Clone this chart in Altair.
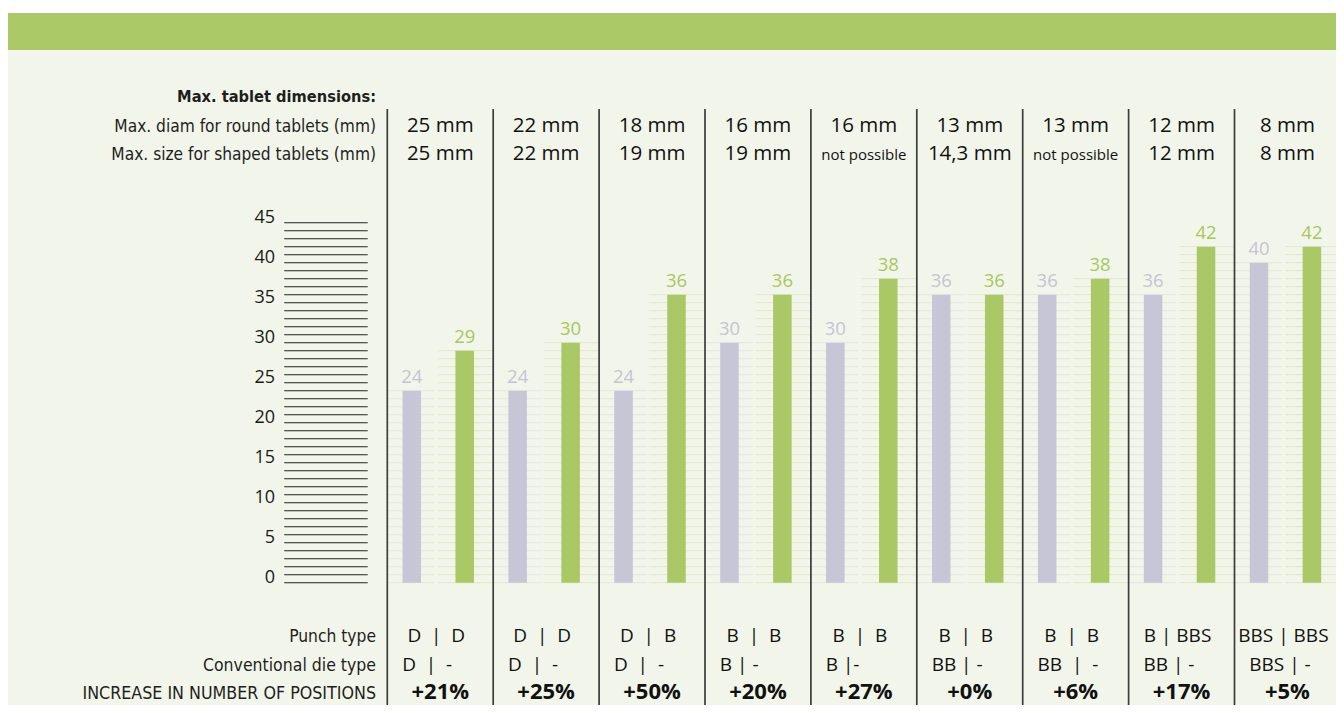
import altair as alt
import pandas as pd

# ---------------- data ----------------
round_mm = ["25 mm", "22 mm", "18 mm", "16 mm", "16 mm", "13 mm", "13 mm", "12 mm", "8 mm"]
shaped_mm = ["25 mm", "22 mm", "19 mm", "19 mm", "not possible", "14,3 mm", "not possible", "12 mm", "8 mm"]
conventional = [24, 24, 24, 30, 30, 36, 36, 36, 40]
new_press = [29, 30, 36, 36, 38, 36, 38, 42, 42]
NB = "\u00a0"
punch_type = [f"D{NB}{NB}|{NB}{NB}D", f"D{NB}{NB}|{NB}{NB}D", f"D{NB}{NB}|{NB}{NB}B", f"B{NB}{NB}|{NB}{NB}B",
              f"B{NB}{NB}|{NB}{NB}B", f"B{NB}{NB}|{NB}{NB}B", f"B{NB}{NB}|{NB}{NB}B", "B | BBS", "BBS | BBS"]
die_type = [f"D{NB}{NB}|{NB}{NB}-", f"D{NB}{NB}|{NB}{NB}-", f"D{NB}{NB}|{NB}{NB}-",
            "B | -", "B |-", "BB | -", f"BB{NB}{NB}|{NB}{NB}-", "BB | -", "BBS | -"]
increase = ["+21%", "+25%", "+50%", "+20%", "+27%", "+0%", "+6%", "+17%", "+5%"]
top_labels = ["Max. tablet dimensions:", "Max. diam for round tablets (mm)", "Max. size for shaped tablets (mm)"]
bottom_labels = ["Punch type", "Conventional die type", "INCREASE IN NUMBER OF POSITIONS"]
y_ticks = list(range(0, 46, 5))
ladder_levels = list(range(0, 46))

# ---------------- layout / style ----------------
W, H = 1328, 697
COL0, COLW = 379.3, 105.9
Y0, UNIT = 574.7, 8.0
BAND = "#ABC966"
BG = "#F2F6EA"
GREY = "#C6C6D7"
GREEN = "#AAC865"
GREY_LINE = "#E3E5E3"
GREEN_LINE = "#DFE8C6"
LABEL_FONT = "DejaVu Sans Condensed, Liberation Sans"
VALUE_FONT = "Open Sans"

xs = alt.Scale(domain=[-COL0 / COLW, (W - COL0) / COLW], range=[0, W], zero=False, nice=False)
ys = alt.Scale(domain=[(Y0 - H) / UNIT, Y0 / UNIT], zero=False, nice=False)


def X(f):
    return alt.X(f, type="quantitative", scale=xs, axis=None)


def Y(f):
    return alt.Y(f, type="quantitative", scale=ys, axis=None)


one = pd.DataFrame({"a": [0]})
cols = pd.DataFrame({
    "col": list(range(9)),
    "round": round_mm,
    "shaped": shaped_mm,
    "punch": punch_type,
    "die": die_type,
    "inc": increase,
})
bars = pd.DataFrame(
    [{"col": i, "series": "conventional", "value": conventional[i]} for i in range(9)]
    + [{"col": i, "series": "new", "value": new_press[i]} for i in range(9)]
)
faint = pd.DataFrame(
    [{"col": r.col, "series": r.series, "level": lv}
     for r in bars.itertuples() for lv in range(0, int(r.value) + 1)]
)

layers = []

# background panel and header band
layers.append(alt.Chart(one).mark_rect(color=BG).encode(
    x=alt.value(0), x2=alt.value(W), y=alt.value(42), y2=alt.value(H)))
layers.append(alt.Chart(one).mark_rect(color=BAND).encode(
    x=alt.value(0), x2=alt.value(W), y=alt.value(5), y2=alt.value(42)))

# faint level lines behind the bars
layers.append(alt.Chart(faint).transform_calculate(
    xa="datum.col + (datum.series == 'conventional' ? 0 : 0.48)",
    xb="datum.col + (datum.series == 'conventional' ? 0.45 : 1.0)",
).mark_rule(strokeWidth=1).encode(
    x=X("xa"), x2="xb", y=Y("level"),
    color=alt.condition("datum.series == 'conventional'", alt.value(GREY_LINE), alt.value(GREEN_LINE)),
))

# bars
layers.append(alt.Chart(bars).transform_calculate(
    xc="datum.col + (datum.series == 'conventional' ? 0.231 : 0.731)",
    xa="datum.xc - 0.0875", xb="datum.xc + 0.0875", zero="0",
).mark_rect().encode(
    x=X("xa"), x2="xb", y=Y("value"), y2="zero",
    color=alt.condition("datum.series == 'conventional'", alt.value(GREY), alt.value(GREEN)),
))

# bar value labels
layers.append(alt.Chart(bars).transform_calculate(
    xc="datum.col + (datum.series == 'conventional' ? 0.231 : 0.731)",
).mark_text(dy=-8, baseline="alphabetic", align="center", font=VALUE_FONT, fontSize=18.5).encode(
    x=X("xc"), y=Y("value"), text="value:Q",
    color=alt.condition("datum.series == 'conventional'", alt.value("#C4C4D6"), alt.value("#A8C760")),
))

# column dividers
layers.append(alt.Chart(cols).mark_rule(color="#3c3c3c", strokeWidth=1.7).encode(
    x=X("col"), y=alt.value(101), y2=alt.value(H)))

# scale ladder
ladder = pd.DataFrame({"level": ladder_levels})
layers.append(alt.Chart(ladder).mark_rule(color="#202020", strokeWidth=1.1).encode(
    x=alt.value(276.3), x2=alt.value(359.7), y=Y("level")))
ticks = pd.DataFrame({"tick": y_ticks})
layers.append(alt.Chart(ticks).mark_text(align="right", baseline="alphabetic", font=VALUE_FONT,
                                         fontSize=18, color="#1a1a1a").encode(
    x=alt.value(267), y=Y("tick"), text="tick:Q"))

# left-hand row labels
for lbl, yy, fs, bold in zip(top_labels, [93.7, 124.3, 152.0], [16.3, 17.2, 17.2], [True, False, False]):
    layers.append(alt.Chart(pd.DataFrame({"t": [lbl]})).mark_text(
        align="right", baseline="alphabetic", font=LABEL_FONT, fontSize=fs,
        fontWeight="bold" if bold else "normal", color="#1e1e1e").encode(
        x=alt.value(368), y=alt.value(yy), text="t:N"))
for lbl, yy, fs in zip(bottom_labels, [633.7, 662.5, 691.0], [17.3, 17.5, 17.7]):
    layers.append(alt.Chart(pd.DataFrame({"t": [lbl]})).mark_text(
        align="right", baseline="alphabetic", font=LABEL_FONT, fontSize=fs, color="#1e1e1e").encode(
        x=alt.value(368), y=alt.value(yy), text="t:N"))

# column values: tablet dimensions
layers.append(alt.Chart(cols).transform_calculate(xc="datum.col + 0.5").mark_text(
    align="center", baseline="alphabetic", font=VALUE_FONT, fontSize=20.5, color="#111111").encode(
    x=X("xc"), y=alt.value(124.3), text="round:N"))
layers.append(alt.Chart(cols).transform_calculate(xc="datum.col + 0.5").mark_text(
    align="center", baseline="alphabetic", font=VALUE_FONT, color="#111111").encode(
    x=X("xc"), y=alt.value(152.0), text="shaped:N",
    size=alt.condition("datum.shaped == 'not possible'", alt.value(15), alt.value(20.5))))

# column values: punch / die / increase
layers.append(alt.Chart(cols).transform_calculate(xc="datum.col + 0.5").mark_text(
    align="center", baseline="alphabetic", font=VALUE_FONT, fontSize=19, color="#111111", dx=-4).encode(
    x=X("xc"), y=alt.value(633.7), text="punch:N"))
layers.append(alt.Chart(cols).transform_calculate(xc="datum.col + 0.14").mark_text(
    align="left", baseline="alphabetic", font=VALUE_FONT, fontSize=19, color="#111111").encode(
    x=X("xc"), y=alt.value(662.5), text="die:N"))
layers.append(alt.Chart(cols).transform_calculate(xc="datum.col + 0.5").mark_text(
    align="center", baseline="alphabetic", font=VALUE_FONT, fontSize=22, fontWeight="bold",
    color="#111111").encode(
    x=X("xc"), y=alt.value(690.5), text="inc:N"))

chart = alt.layer(*layers).properties(
    width=W, height=H, padding=0, background="white",
    autosize=alt.AutoSizeParams(type="none"),
).configure_view(strokeWidth=0)

chart.save("out.html", embed_options={"renderer": "svg", "actions": False})
